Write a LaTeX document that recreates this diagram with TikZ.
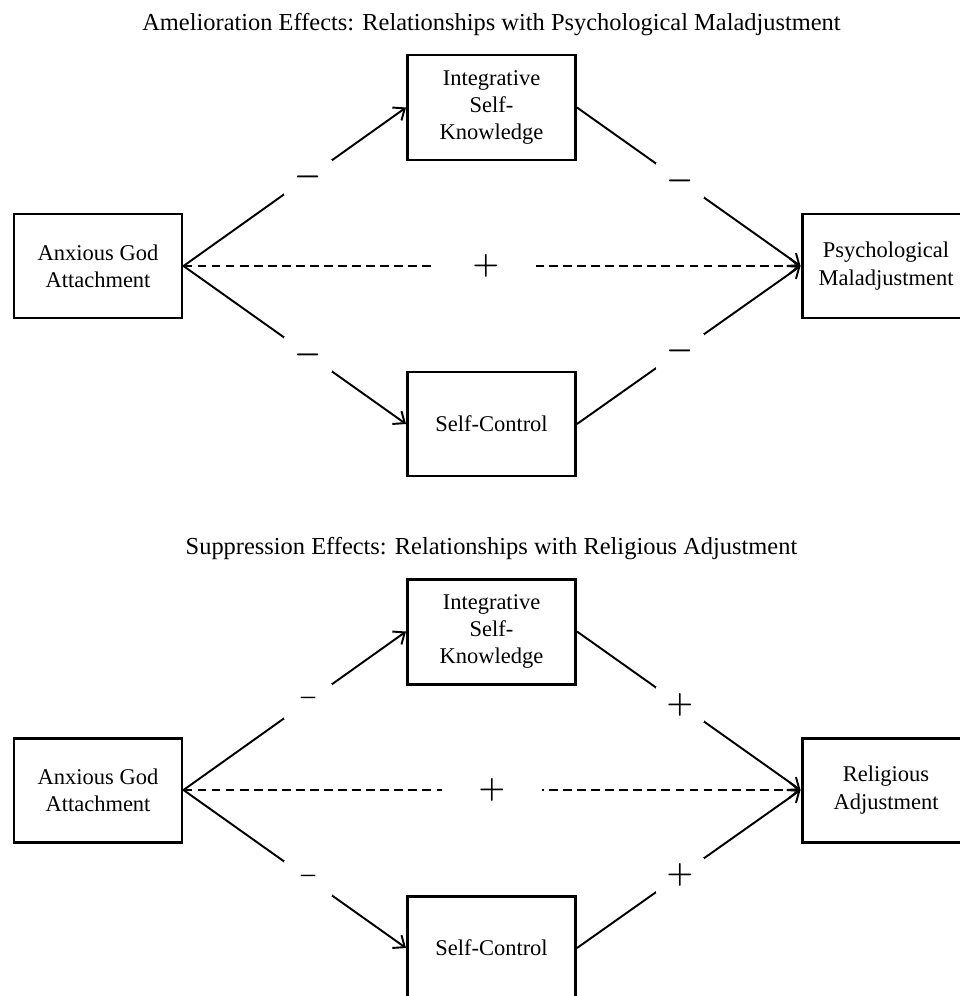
\documentclass[tikz,border=0pt]{standalone}
\usepackage{amsmath}
\usepackage{amssymb}
\usepackage{fontspec}
\setmainfont{Liberation Serif}
\usetikzlibrary{arrows.meta,positioning}
\DeclareRobustCommand{\heavyminus}{\ensuremath{\boldsymbol{-}}}
\DeclareRobustCommand{\heavyplus}{\ensuremath{\boldsymbol{+}}}

\begin{document}
\begin{tikzpicture}[%
>={Straight Barb[length=5.5pt,width=9pt]},
node distance=2.5cm,
on grid,
box/.style={draw,line width=1.7pt,minimum width=3.36cm,minimum height=2.08cm,align=center,font=\fontsize{12.8}{15.5}\selectfont},
heading/.style={font=\fontsize{13.9}{16}\selectfont},
signlabel/.style={fill=white,minimum width=0.96cm,minimum height=0.7cm,inner sep=0pt,font=\fontsize{16}{18}\selectfont},
widelabel/.style={signlabel,minimum width=2cm},
link/.style={line width=1.1pt},
dashlink/.style={link,dash pattern=on 5pt off 3pt}
]
\useasboundingbox (0,0) rectangle (19.2,-19.92);

% amelioration panel
\node[box] (anx1) at (1.96,-5.32) {Anxious God\\Attachment};
\node[box,minimum height=2.1cm] (int1) [above right=3.17cm and 7.87cm of anx1] {Integrative\\Self-\\Knowledge};
\node[box] (ctl1) [below right=3.16cm and 7.87cm of anx1] {Self-Control};
\node[box] (psy1) [right=15.76cm of anx1] {Psychological\\Maladjustment};
\node[heading] (title1) [above=1.65cm of int1] {Amelioration Effects: Relationships with Psychological Maladjustment};

\path[->,link] (anx1.east) edge node[signlabel,pos=0.56] {\heavyminus} (int1.west);
\path[->,link] (int1.east) edge node[signlabel,pos=0.46] {\heavyminus} (psy1.west);
\path[->,link] (anx1.east) edge node[signlabel,pos=0.56] {\heavyminus} (ctl1.west);
\path[->,link] (ctl1.east) edge node[signlabel,pos=0.46] {\heavyminus} (psy1.west);
\path[->,dashlink] (anx1.east) edge node[widelabel,pos=0.49] {\heavyplus} (psy1.west);

% suppression panel
\node[box] (anx2) [below=10.48cm of anx1] {Anxious God\\Attachment};
\node[box,minimum height=2.1cm] (int2) [above right=3.17cm and 7.87cm of anx2] {Integrative\\Self-\\Knowledge};
\node[box] (ctl2) [below right=3.16cm and 7.87cm of anx2] {Self-Control};
\node[box] (rel2) [right=15.76cm of anx2] {Religious\\Adjustment};
\node[heading] (title2) [above=1.65cm of int2] {Suppression Effects: Relationships with Religious Adjustment};

\path[->,link] (anx2.east) edge node[signlabel,pos=0.56] {\textendash} (int2.west);
\path[->,link] (int2.east) edge node[signlabel,pos=0.46] {\heavyplus} (rel2.west);
\path[->,link] (anx2.east) edge node[signlabel,pos=0.56] {\textendash} (ctl2.west);
\path[->,link] (ctl2.east) edge node[signlabel,pos=0.46] {\heavyplus} (rel2.west);
\path[->,dashlink] (anx2.east) edge node[widelabel,pos=0.5] {\heavyplus} (rel2.west);

\end{tikzpicture}
\end{document}
